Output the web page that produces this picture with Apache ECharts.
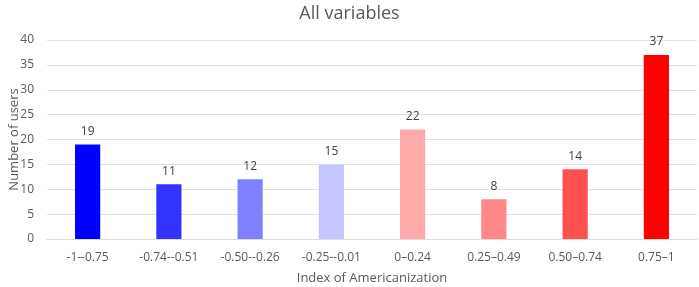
<!DOCTYPE html>
<html><head><meta charset="utf-8">
<script src="https://cdn.jsdelivr.net/npm/echarts@6/dist/echarts.min.js"></script>
<style>html,body{margin:0;padding:0;background:#fff}#c{width:699px;height:287px}</style>
</head><body><div id="c"></div>
<script>
const categories = ["-1--0.75","-0.74--0.51","-0.50--0.26","-0.25--0.01","0\u20130.24","0.25\u20130.49","0.50\u20130.74","0.75\u20131"];
const values = [19, 11, 12, 15, 22, 8, 14, 37];
const colors = ["#0000FF","#3333FF","#8080FF","#C4C4FF","#FFAAAA","#FF8787","#FF5050","#FF0000"];
const yTicks = [0, 40, 5];
const font = "'Open Sans', sans-serif";
const chart = echarts.init(document.getElementById('c'));
chart.setOption({
  animation: false,
  title: { text: 'All variables', left: 'center', top: 0, textStyle: { fontFamily: font, fontSize: 18, fontWeight: 'normal', color: '#595959' } },
  grid: { left: 47, right: 2, top: 40, bottom: 48, containLabel: false, outerBoundsMode: 'none' },
  xAxis: {
    type: 'category', data: categories,
    name: 'Index of Americanization', nameLocation: 'middle', nameGap: 33,
    nameTextStyle: { fontFamily: font, fontSize: 13, color: '#595959' },
    axisLine: { lineStyle: { color: '#e0dada' } }, axisTick: { show: false },
    axisLabel: { fontFamily: font, fontSize: 12, color: '#595959', margin: 13, interval: 0 }
  },
  yAxis: {
    type: 'value', min: yTicks[0], max: yTicks[1], interval: yTicks[2],
    name: 'Number of users', nameLocation: 'middle', nameGap: 33, nameMoveOverlap: false,
    nameTextStyle: { fontFamily: font, fontSize: 13, color: '#595959', verticalAlign: 'middle' },
    axisLine: { show: false }, axisTick: { show: false },
    axisLabel: { fontFamily: font, fontSize: 12, color: '#595959', margin: 13 },
    splitLine: { lineStyle: { color: '#e6dfdf' } }
  },
  series: [{
    type: 'bar', barWidth: '31%',
    data: values.map((v, i) => ({ value: v, itemStyle: { color: colors[i] } })),
    label: { show: true, position: 'top', distance: 7, fontFamily: font, fontSize: 12, color: '#404040' }
  }]
});
</script></body></html>
